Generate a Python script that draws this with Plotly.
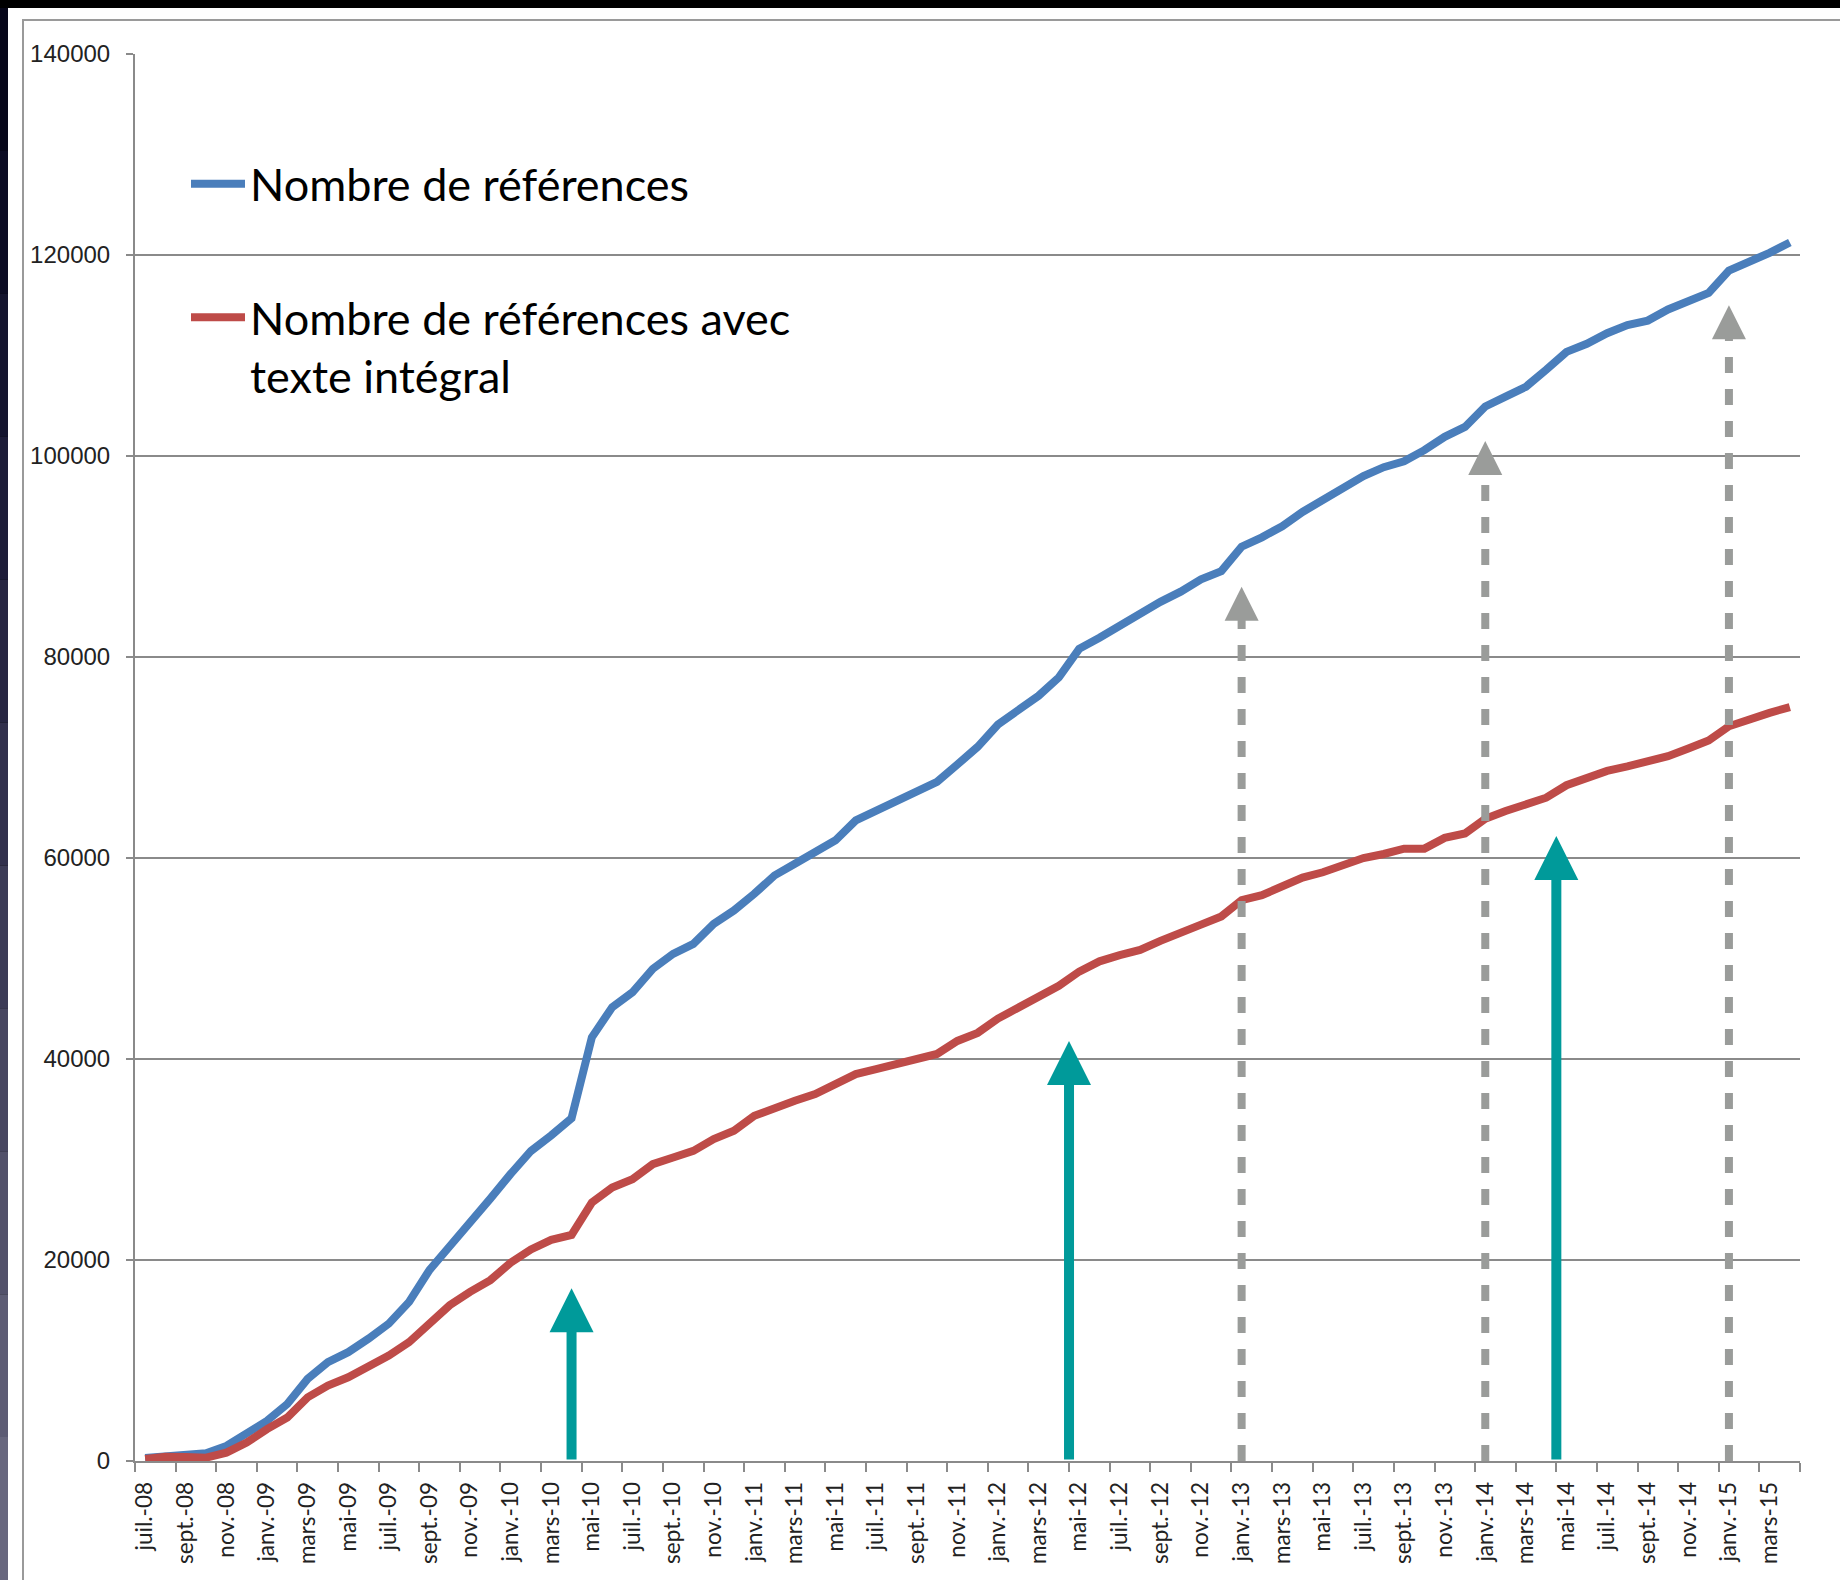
import plotly.graph_objects as go

# ---------------- data ----------------
month_names = ["janv.", "févr.", "mars", "avr.", "mai", "juin",
               "juil.", "août", "sept.", "oct.", "nov.", "déc."]
categories = []
for yr in range(2008, 2016):
    for mi, mn in enumerate(month_names):
        if (yr, mi) < (2008, 6) or (yr, mi) > (2015, 3):
            continue
        categories.append(f"{mn}-{yr % 100:02d}")

tick_labels = categories[::2]

nombre_refs = [300, 500, 570, 770, 1500, 2670, 4000, 5670, 8170, 9830,
               10830, 12170, 13670, 15830, 19000, 21370, 23660, 26110, 28560, 30850,
               32400, 34100, 42160, 45150, 46640, 48970, 50460, 51460, 53450, 54780,
               56440, 58270, 59430, 60600, 61760, 63750, 64750, 65750, 66580, 67580,
               69300, 71060, 73290, 74600, 76140, 77970, 80810, 81910, 83130, 84270,
               85490, 86500, 87720, 88540, 90980, 91910, 93010, 94430, 95650, 96870,
               98010, 98890, 99470, 100580, 101910, 102890, 104930, 105910, 106890, 108580,
               110360, 111160, 112220, 113020, 113470, 114580, 115330, 116220, 118440, 119240,
               120220, 121240]

nombre_texte = [200, 430, 400, 330, 830, 1830, 3170, 4330, 6330, 7500,
                8330, 9330, 10500, 11830, 13670, 15500, 16830, 18000, 19730, 21050,
                22000, 22500, 25720, 27210, 28040, 29530, 30200, 30860, 32030, 32860,
                34350, 35180, 35850, 36510, 37510, 38500, 39000, 39500, 40000, 40500,
                41800, 42600, 44020, 45040, 46060, 47280, 48700, 49720, 50330, 50850,
                51750, 52640, 53370, 54190, 55810, 56300, 57240, 58050, 58580, 59390,
                60000, 60400, 60930, 60930, 62000, 62440, 63910, 64670, 65240, 66000,
                67240, 67910, 68670, 69110, 69560, 70130, 70890, 71690, 73110, 73820,
                74440, 75020]

# arrows (x in category index units)
teal_x = [21, 45.5, 69.5]
teal_tip = [17200, 41800, 62200]
gray_x = [54, 66, 78]
gray_tip = [87000, 101500, 115000]
gray_head_base = [83700, 98300, 111700]

# ---------------- style ----------------
W, H = 1840, 1580
PL, PR, PT, PB = 135, 1800, 54, 1461
BLUE = "#4a7ebb"
RED = "#be4b48"
TEAL = "#009a9a"
GRAY_ARROW = "#9a9c9a"
GRID = "#8a8a8a"


def fx(px):
    return (px - PL) / (PR - PL)


def fy(py):
    return (PB - py) / (PB - PT)


x_idx = list(range(len(categories)))

fig = go.Figure()
fig.add_trace(go.Scatter(x=x_idx, y=nombre_refs, mode="lines", name="Nombre de références",
                         legendgroup="a", line=dict(color=BLUE, width=8)))
fig.add_trace(go.Scatter(x=x_idx, y=nombre_texte, mode="lines",
                         name="Nombre de références avec<br>texte intégral",
                         legendgroup="b", line=dict(color=RED, width=8)))

for gx, gb in zip(gray_x, gray_head_base):
    fig.add_trace(go.Scatter(x=[gx, gx], y=[0, gb], mode="lines", showlegend=False,
                             hoverinfo="skip",
                             line=dict(color=GRAY_ARROW, width=8, dash="16px,16px")))

annotations = []
for tx, tt in zip(teal_x, teal_tip):
    annotations.append(dict(x=tx, y=tt, ax=tx, ay=0, xref="x", yref="y",
                            axref="x", ayref="y", text="", showarrow=True,
                            arrowhead=2, arrowwidth=10, arrowsize=0.88,
                            arrowcolor=TEAL))
for gx, gt, gb in zip(gray_x, gray_tip, gray_head_base):
    annotations.append(dict(x=gx, y=gt, ax=gx, ay=gb, xref="x", yref="y",
                            axref="x", ayref="y", text="", showarrow=True,
                            arrowhead=2, arrowwidth=8, arrowsize=0.85,
                            arrowcolor=GRAY_ARROW))

# background decoration: dark screen border, white sheet, chart frame
shapes = [dict(type="rect", xref="paper", yref="paper", layer="below",
               x0=fx(8), x1=fx(W + 5), y0=fy(H + 5), y1=fy(8),
               fillcolor="white", line=dict(width=0))]
strip_cols = ["#07071a", "#0c0c24", "#14142e", "#1d1c38", "#272642", "#31304c",
              "#3c3b56", "#474660", "#52516a", "#5d5c74", "#68677e"]
n = len(strip_cols)
for k, c in enumerate(strip_cols):
    shapes.append(dict(type="rect", xref="paper", yref="paper", layer="below",
                       x0=fx(0), x1=fx(8), y0=fy(8 + (H - 8) * (k + 1) / n),
                       y1=fy(8 + (H - 8) * k / n), fillcolor=c, line=dict(width=0)))
shapes.append(dict(type="rect", xref="paper", yref="paper", layer="below",
                   x0=fx(23), x1=fx(W + 20), y0=fy(H + 20), y1=fy(20),
                   fillcolor="rgba(0,0,0,0)", line=dict(color="#9a9a9a", width=2)))

fig.update_layout(
    width=W, height=H,
    margin=dict(l=PL, r=W - PR, t=PT, b=H - PB, pad=0, autoexpand=False),
    paper_bgcolor="#000000",
    plot_bgcolor="white",
    showlegend=True,
    legend=dict(x=fx(186), y=fy(148), xanchor="left", yanchor="top",
                bgcolor="rgba(0,0,0,0)", borderwidth=0, itemwidth=54,
                font=dict(family="Lato", size=45, color="#000000"),
                tracegroupgap=72, valign="top", traceorder="grouped"),
    annotations=annotations,
    shapes=shapes,
    xaxis=dict(range=[-0.5, len(categories) - 0.5], tickmode="array",
               tickvals=x_idx[::2], ticktext=tick_labels, tickangle=-90,
               ticks="", showgrid=False, zeroline=False, automargin=False,
               showline=True, linecolor=GRID, linewidth=2,
               tickfont=dict(family="Lato", size=22.5, color="#222222"),
               ticklabelstandoff=10,
               minor=dict(tickmode="array",
                          tickvals=[i - 0.5 for i in range(0, len(categories) + 1, 2)],
                          ticks="outside", ticklen=9, tickwidth=2, tickcolor=GRID,
                          showgrid=False)),
    yaxis=dict(range=[0, 140000], tickmode="linear", tick0=0, dtick=20000,
               tickformat="d", showgrid=True, gridcolor=GRID, gridwidth=2,
               zeroline=False, showline=True, linecolor=GRID, linewidth=2,
               automargin=False,
               ticks="outside", ticklen=7, tickwidth=2, tickcolor=GRID,
               tickfont=dict(family="Liberation Sans", size=24, color="#222222"),
               ticklabelstandoff=11),
)

fig.write_html(
    "out.html",
    config={"displayModeBar": False},
    post_script="document.body.style.margin='0px';"
                "document.body.style.background='#ffffff';"
                "document.body.style.overflow='hidden';"
                "document.documentElement.style.overflow='hidden';",
)
